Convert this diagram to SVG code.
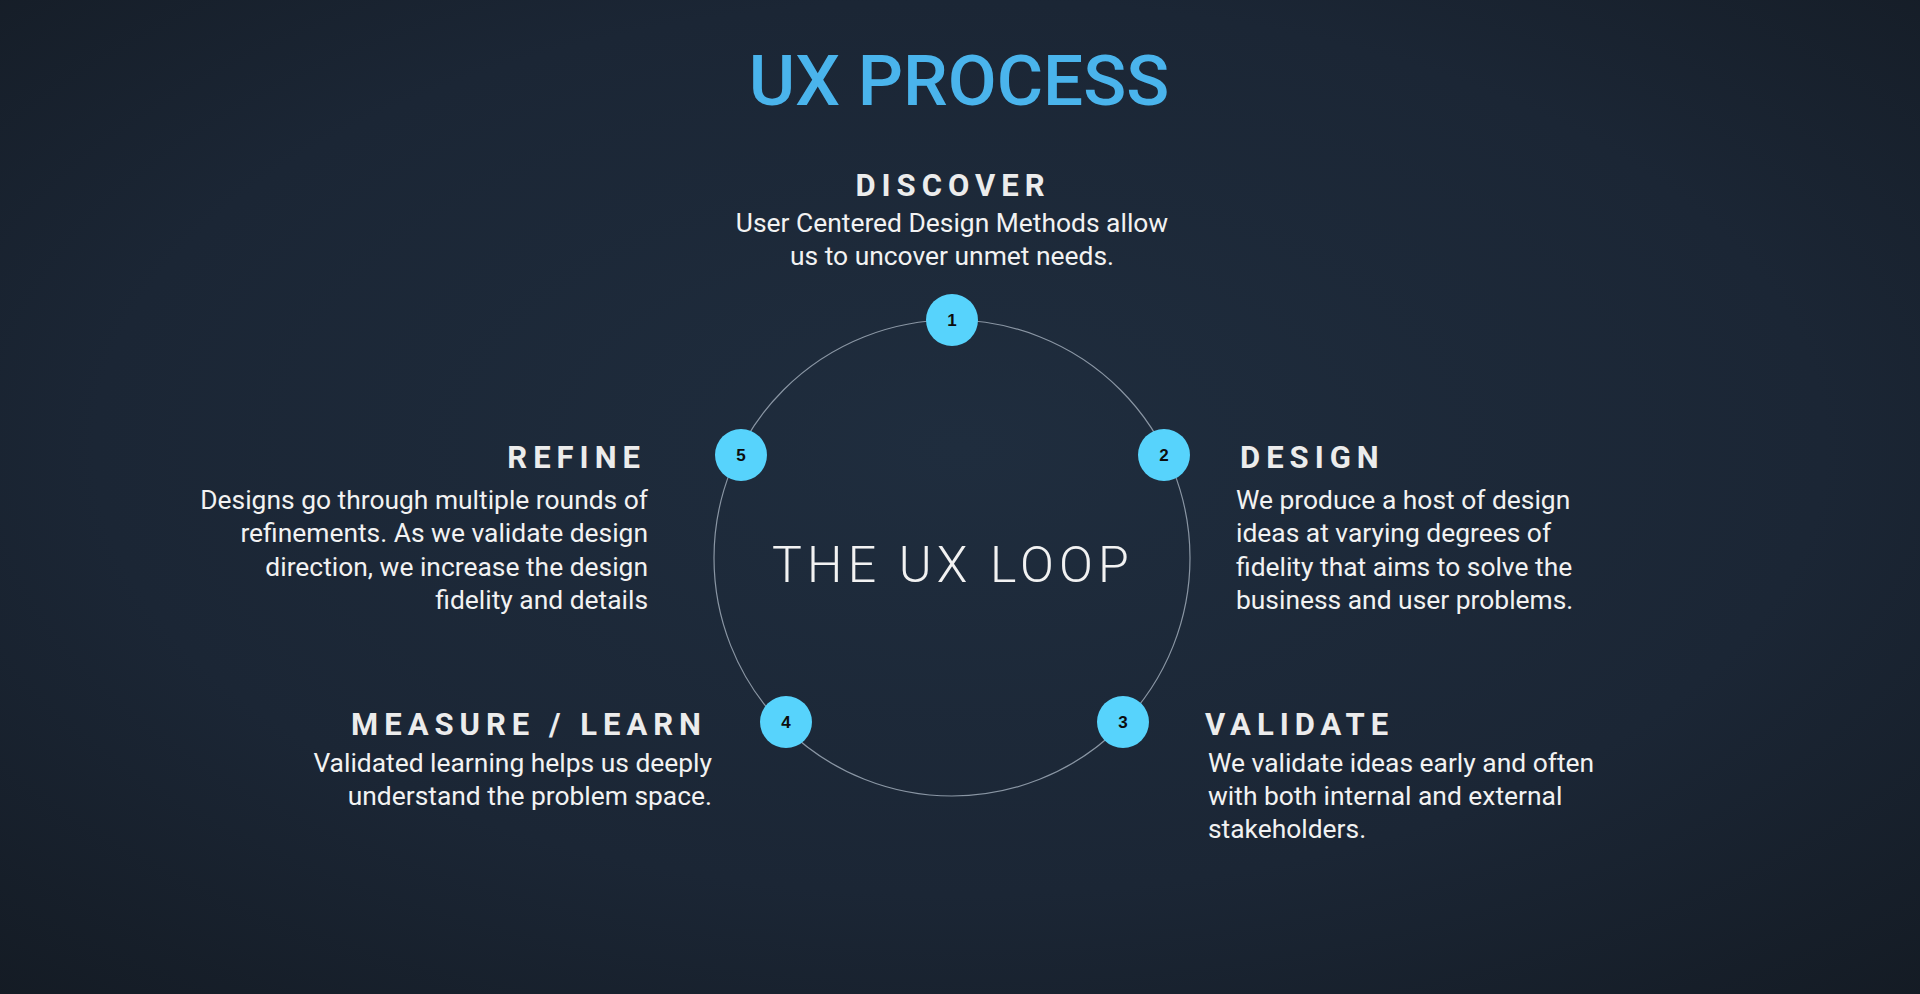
<svg xmlns="http://www.w3.org/2000/svg" width="1920" height="994" viewBox="0 0 1920 994">
<defs>
<radialGradient id="bg" cx="0.5" cy="0.45" r="0.75">
<stop offset="0" stop-color="#1f2d3e"/>
<stop offset="0.6" stop-color="#1b2635"/>
<stop offset="1" stop-color="#141b24"/>
</radialGradient>
<style>
.title{font-family:"Roboto","Liberation Sans",sans-serif;font-weight:500;font-size:71px;fill:#4ab4ec;text-anchor:middle}
.head{font-family:"Roboto","Liberation Sans",sans-serif;font-weight:700;font-size:31px;fill:#ececec;letter-spacing:6px}
.body{font-family:"Roboto","Liberation Sans",sans-serif;font-size:26.4px;fill:#f2f2f2}
.loop{font-family:"Roboto","Liberation Sans",sans-serif;font-weight:300;font-size:50px;fill:#f2f2f2;letter-spacing:5.2px;text-anchor:middle}
.dot{fill:#57d3fc}
.num{font-family:"Liberation Sans","Roboto",sans-serif;font-weight:700;font-size:17px;fill:#0d0d0d;text-anchor:middle}
.ring{fill:none;stroke:#8a96a4;stroke-width:1.2}
</style>
</defs>
<rect width="1920" height="994" fill="url(#bg)"/>
<text class="title" x="959" y="105">UX PROCESS</text>
<g id="connectors">
<circle class="ring" cx="952" cy="558" r="238"/>
</g>
<text class="loop" x="953" y="582">THE UX LOOP</text>
<g id="node-1">
<circle class="dot" cx="952" cy="320" r="26"/>
<text class="num" x="952" y="326">1</text>
<text class="head" x="953" y="196" text-anchor="middle">DISCOVER</text>
<text class="body" x="952" y="232" text-anchor="middle">User Centered Design Methods allow</text>
<text class="body" x="952" y="265" text-anchor="middle">us to uncover unmet needs.</text>
</g>
<g id="node-2">
<circle class="dot" cx="1164" cy="455" r="26"/>
<text class="num" x="1164" y="461">2</text>
<text class="head" x="1240" y="468">DESIGN</text>
<text class="body" x="1236" y="509">We produce a host of design</text>
<text class="body" x="1236" y="542">ideas at varying degrees of</text>
<text class="body" x="1236" y="576">fidelity that aims to solve the</text>
<text class="body" x="1236" y="609">business and user problems.</text>
</g>
<g id="node-3">
<circle class="dot" cx="1123" cy="722" r="26"/>
<text class="num" x="1123" y="728">3</text>
<text class="head" x="1205" y="735">VALIDATE</text>
<text class="body" x="1208" y="772">We validate ideas early and often</text>
<text class="body" x="1208" y="805">with both internal and external</text>
<text class="body" x="1208" y="838">stakeholders.</text>
</g>
<g id="node-4">
<circle class="dot" cx="786" cy="722" r="26"/>
<text class="num" x="786" y="728">4</text>
<text class="head" x="707" y="735" text-anchor="end">MEASURE / LEARN</text>
<text class="body" x="712" y="772" text-anchor="end">Validated learning helps us deeply</text>
<text class="body" x="712" y="805" text-anchor="end">understand the problem space.</text>
</g>
<g id="node-5">
<circle class="dot" cx="741" cy="455" r="26"/>
<text class="num" x="741" y="461">5</text>
<text class="head" x="646" y="468" text-anchor="end">REFINE</text>
<text class="body" x="648" y="509" text-anchor="end">Designs go through multiple rounds of</text>
<text class="body" x="648" y="542" text-anchor="end">refinements. As we validate design</text>
<text class="body" x="648" y="576" text-anchor="end">direction, we increase the design</text>
<text class="body" x="648" y="609" text-anchor="end">fidelity and details</text>
</g>
</svg>
